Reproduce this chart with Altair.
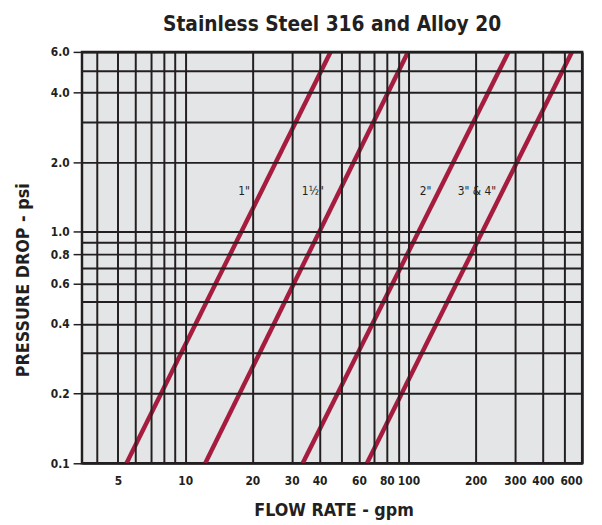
import altair as alt
import pandas as pd

# ---- data ----
sizes = ['1"', '1½"', '2"', '3" & 4"']
dp_low = 0.1
dp_high = 6.0
flow_at_low = [5.46, 12.3, 33.6, 65.2]     # gpm at 0.1 psi
flow_at_high = [44.8, 99.6, 280.7, 540.0]  # gpm at 6.0 psi

label_flow = [19.5, 41.8, 126.8, 247.0]
label_dp = [1.5, 1.5, 1.5, 1.5]

x_grid = [4, 5, 6, 7, 8, 9, 10, 20, 30, 40, 50, 60, 70, 80, 90, 100, 200, 300, 400, 500, 600]
x_labels = [5, 10, 20, 30, 40, 60, 80, 100, 200, 300, 400, 600]
y_grid = [0.1, 0.2, 0.3, 0.4, 0.5, 0.6, 0.7, 0.8, 0.9, 1, 2, 3, 4, 5, 6]
y_labels = [0.1, 0.2, 0.4, 0.6, 0.8, 1, 2, 4, 6]

rows = []
for s, lo, hi in zip(sizes, flow_at_low, flow_at_high):
    rows.append({"size": s, "flow": lo, "dp": dp_low})
    rows.append({"size": s, "flow": hi, "dp": dp_high})
lines_df = pd.DataFrame(rows)
labels_df = pd.DataFrame({"size": sizes, "flow": label_flow, "dp": label_dp})

INK = "#231f20"
RED = "#a51c3f"
FONT = "Liberation Sans Narrow, DejaVu Sans Condensed, Roboto, sans-serif"

xl = ",".join(str(v) for v in x_labels)
yl = ",".join(str(v) for v in y_labels)

x_scale = alt.Scale(type="log", domain=[3.45, 600], nice=False)
y_scale = alt.Scale(type="log", domain=[0.1, 6], nice=False)

x_axis = alt.Axis(
    values=x_grid, grid=True, gridColor=INK, gridWidth=2, gridOpacity=1,
    ticks=False, domain=False, zindex=1,
    labelExpr=f"indexof([{xl}], datum.value) >= 0 ? format(datum.value, 'd') : ''",
    labelFont=FONT, labelFontWeight="bold", labelFontSize=12, labelColor=INK,
    labelPadding=13,
    title="FLOW RATE - gpm", titleFont=FONT, titleFontWeight="bold",
    titleFontSize=18, titleColor=INK, titleX=255, titleY=48,
    titleBaseline="middle", titleAlign="center",
)
y_axis = alt.Axis(
    values=y_grid, grid=True, gridColor=INK, gridWidth=2, gridOpacity=1,
    ticks=True, tickSize=9, tickWidth=1.5, tickColor=INK,
    tickOpacity={"condition": {"test": f"indexof([{yl}], datum.value) >= 0", "value": 1}, "value": 0},
    domain=False, zindex=1, labelFlush=False,
    labelExpr=f"indexof([{yl}], datum.value) >= 0 ? format(datum.value, '.1f') : ''",
    labelFont=FONT, labelFontWeight="bold", labelFontSize=12, labelColor=INK,
    labelPadding=4,
    title="PRESSURE DROP - psi", titleFont=FONT, titleFontWeight="bold",
    titleFontSize=18, titleColor=INK, titleX=-59, titleY=231, titleAngle=270,
    titleBaseline="middle", titleAlign="center",
)

lines = alt.Chart(lines_df).mark_line(color=RED, strokeWidth=4.5, clip=True).encode(
    x=alt.X("flow:Q", scale=x_scale, axis=x_axis),
    y=alt.Y("dp:Q", scale=y_scale, axis=y_axis),
    detail="size:N",
)

texts = alt.Chart(labels_df).mark_text(
    align="right", baseline="middle", font=FONT, fontSize=12, color=INK
).encode(
    x=alt.X("flow:Q", scale=x_scale),
    y=alt.Y("dp:Q", scale=y_scale),
    text="size:N",
)

chart = (
    alt.layer(lines, texts)
    .properties(
        width=507, height=417,
        title=alt.TitleParams(
            "Stainless Steel 316 and Alloy 20", font=FONT, fontSize=21,
            fontWeight="bold", color=INK, anchor="middle", offset=11,
        ),
        autosize=alt.AutoSizeParams(type="none"),
        padding={"left": 75, "top": 41, "right": 12, "bottom": 55},
    )
    .configure_view(fill="#e4e5e6", stroke=INK, strokeWidth=2.5)
)

chart.save("out.html", embed_options={"renderer": "svg", "actions": False})
